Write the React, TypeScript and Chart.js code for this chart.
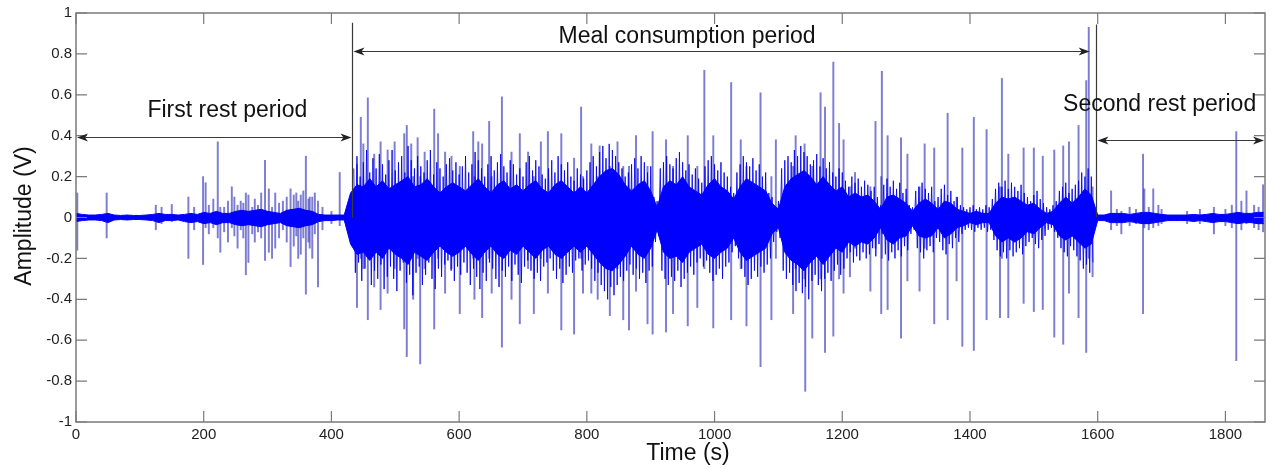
import React, { useEffect, useRef } from 'react';
import { Chart, registerables } from 'chart.js';

Chart.register(...registerables);

// ---- Axis ticks ----
const xTickValues = [0, 200, 400, 600, 800, 1000, 1200, 1400, 1600, 1800];
const yTickValues = [-1, -0.8, -0.6, -0.4, -0.2, 0, 0.2, 0.4, 0.6, 0.8, 1];

// ---- Solid core of the signal, sampled every 10 s from 0 to 1860 s ----
const coreTimes: number[] = Array.from({ length: 187 }, (_, i) => i * 10);

const coreHigh = [
  // first rest period 0..420
  0.02, 0.015, 0.012, 0.012, 0.015, 0.02, 0.012, 0.01, 0.012, 0.01,
  0.01, 0.012, 0.015, 0.02, 0.015, 0.015, 0.012, 0.015, 0.02, 0.015,
  0.025, 0.02, 0.03, 0.02, 0.02, 0.03, 0.035, 0.03, 0.035, 0.04,
  0.03, 0.025, 0.02, 0.035, 0.04, 0.045, 0.035, 0.03, 0.015, 0.012,
  0.012, 0.012, 0.012,
  // meal consumption 430..1590
  0.12, 0.16, 0.15, 0.19, 0.15, 0.18, 0.14, 0.16, 0.18, 0.2,
  0.15, 0.16, 0.19, 0.15, 0.12, 0.15, 0.17, 0.15, 0.13, 0.16,
  0.19, 0.15, 0.12, 0.16, 0.18, 0.14, 0.16, 0.13, 0.16, 0.18,
  0.14, 0.12, 0.16, 0.18, 0.15, 0.12, 0.15, 0.12, 0.16, 0.2,
  0.23, 0.24, 0.21, 0.16, 0.13, 0.16, 0.18, 0.13, 0.05, 0.15,
  0.18, 0.16, 0.2, 0.15, 0.13, 0.11, 0.16, 0.19, 0.15, 0.13,
  0.09, 0.15, 0.19, 0.17, 0.15, 0.13, 0.07, 0.04, 0.15, 0.19,
  0.21, 0.23, 0.2, 0.16, 0.2, 0.16, 0.13, 0.15, 0.1, 0.12,
  0.1, 0.11, 0.08, 0.04, 0.1, 0.11, 0.09, 0.07, 0.03, 0.07,
  0.09, 0.07, 0.04, 0.08, 0.07, 0.04, 0.03, 0.02, 0.03, 0.02,
  0.02, 0.07, 0.1, 0.09, 0.1, 0.08, 0.06, 0.07, 0.04, 0.02,
  0.03, 0.07, 0.1, 0.07, 0.1, 0.14, 0.11,
  // second rest period 1600..1860
  0.012, 0.012, 0.02, 0.02, 0.02, 0.015, 0.02, 0.025, 0.025, 0.02,
  0.015, 0.012, 0.012, 0.012, 0.012, 0.015, 0.012, 0.015, 0.02, 0.015,
  0.015, 0.02, 0.025, 0.02, 0.02, 0.025, 0.025,
];

const coreLow = [
  // first rest period 0..420
  -0.02, -0.015, -0.012, -0.012, -0.015, -0.025, -0.012, -0.01, -0.012, -0.01,
  -0.01, -0.012, -0.015, -0.025, -0.015, -0.015, -0.012, -0.02, -0.025, -0.02,
  -0.03, -0.025, -0.035, -0.025, -0.025, -0.035, -0.04, -0.035, -0.04, -0.045,
  -0.035, -0.03, -0.025, -0.04, -0.045, -0.05, -0.04, -0.035, -0.02, -0.015,
  -0.015, -0.012, -0.012,
  // meal consumption 430..1590
  -0.13, -0.18, -0.17, -0.21, -0.17, -0.2, -0.15, -0.18, -0.2, -0.23,
  -0.17, -0.19, -0.21, -0.17, -0.14, -0.17, -0.19, -0.17, -0.14, -0.18,
  -0.21, -0.17, -0.14, -0.18, -0.2, -0.16, -0.18, -0.14, -0.17, -0.2,
  -0.16, -0.14, -0.18, -0.2, -0.17, -0.14, -0.17, -0.14, -0.18, -0.22,
  -0.25, -0.26, -0.23, -0.19, -0.14, -0.18, -0.2, -0.15, -0.06, -0.17,
  -0.2, -0.19, -0.22, -0.17, -0.15, -0.13, -0.18, -0.2, -0.17, -0.15,
  -0.1, -0.17, -0.21, -0.19, -0.17, -0.15, -0.08, -0.05, -0.17, -0.21,
  -0.23, -0.26, -0.22, -0.19, -0.23, -0.19, -0.15, -0.17, -0.12, -0.14,
  -0.12, -0.13, -0.1, -0.05, -0.11, -0.13, -0.1, -0.09, -0.04, -0.09,
  -0.1, -0.09, -0.05, -0.1, -0.08, -0.05, -0.04, -0.025, -0.035, -0.025,
  -0.025, -0.09, -0.12, -0.1, -0.12, -0.1, -0.07, -0.08, -0.05, -0.025,
  -0.035, -0.09, -0.11, -0.09, -0.12, -0.15, -0.13,
  // second rest period 1600..1860
  -0.015, -0.015, -0.025, -0.025, -0.025, -0.02, -0.025, -0.03, -0.03, -0.025,
  -0.02, -0.015, -0.015, -0.015, -0.015, -0.02, -0.015, -0.02, -0.025, -0.02,
  -0.02, -0.025, -0.03, -0.025, -0.025, -0.03, -0.03,
];

// ---- Dense oscillation around the core during the meal, every 5 s from 435 to 1590 s ----
// (positive peak at each time, negative peak 2.5 s later)
const denseTimes: number[] = Array.from({ length: 232 }, (_, i) => 435 + i * 5);

const denseHigh = [
  0.24, 0.3, 0.2, 0.27, 0.33, 0.22, 0.29, 0.24, 0.31, 0.26,
  0.21, 0.28, 0.33, 0.23, 0.27, 0.3, 0.22, 0.35, 0.28, 0.24,
  0.3, 0.25, 0.22, 0.28, 0.33, 0.21, 0.27, 0.24, 0.2, 0.26,
  0.29, 0.23, 0.27, 0.21, 0.25, 0.3, 0.22, 0.26, 0.32, 0.28,
  0.24, 0.2, 0.26, 0.3, 0.23, 0.27, 0.31, 0.25, 0.22, 0.28,
  0.26, 0.21, 0.24, 0.2, 0.27, 0.3, 0.23, 0.28, 0.25, 0.21,
  0.19, 0.24, 0.28, 0.22, 0.3, 0.26, 0.23, 0.27, 0.2, 0.18,
  0.24, 0.21, 0.19, 0.23, 0.27, 0.3, 0.25, 0.32, 0.35, 0.29,
  0.36, 0.33, 0.3, 0.27, 0.24, 0.2, 0.22, 0.26, 0.29, 0.24,
  0.3, 0.27, 0.22, 0.25, 0.1, 0.08, 0.24, 0.27, 0.3, 0.26,
  0.24, 0.29, 0.32, 0.27, 0.23, 0.26, 0.21, 0.24, 0.19, 0.17,
  0.25, 0.28, 0.3, 0.26, 0.23, 0.27, 0.22, 0.2, 0.15, 0.12,
  0.22, 0.26, 0.3, 0.27, 0.25, 0.29, 0.23, 0.26, 0.2, 0.22,
  0.12, 0.1, 0.05, 0.08, 0.24, 0.28, 0.3, 0.27, 0.33, 0.3,
  0.35, 0.32, 0.3, 0.26, 0.28, 0.31, 0.25, 0.29, 0.24, 0.27,
  0.22, 0.2, 0.24, 0.22, 0.18, 0.15, 0.2, 0.17, 0.19, 0.15,
  0.18, 0.16, 0.13, 0.15, 0.1, 0.06, 0.16, 0.19, 0.15, 0.18,
  0.14, 0.17, 0.12, 0.14, 0.06, 0.05, 0.13, 0.15, 0.17, 0.14,
  0.12, 0.15, 0.08, 0.1, 0.14, 0.16, 0.11, 0.13, 0.08, 0.1,
  0.06, 0.05, 0.04, 0.05, 0.06, 0.04, 0.05, 0.04, 0.06, 0.05,
  0.09, 0.14, 0.17, 0.15, 0.18, 0.14, 0.17, 0.15, 0.13, 0.16,
  0.12, 0.1, 0.08, 0.11, 0.13, 0.09, 0.07, 0.05, 0.04, 0.06,
  0.08, 0.13, 0.15, 0.17, 0.12, 0.14, 0.16, 0.18, 0.22, 0.2,
  0.24, 0.2,
];

const denseLow = [
  -0.27, -0.22, -0.31, -0.25, -0.2, -0.33, -0.26, -0.3, -0.23, -0.35,
  -0.29, -0.24, -0.3, -0.36, -0.26, -0.22, -0.32, -0.28, -0.38, -0.27,
  -0.24, -0.33, -0.28, -0.22, -0.3, -0.35, -0.25, -0.29, -0.23, -0.21,
  -0.26, -0.31, -0.24, -0.28, -0.22, -0.27, -0.33, -0.25, -0.29, -0.35,
  -0.27, -0.31, -0.22, -0.25, -0.3, -0.34, -0.26, -0.29, -0.24, -0.31,
  -0.23, -0.28, -0.32, -0.24, -0.21, -0.26, -0.3, -0.27, -0.31, -0.24,
  -0.22, -0.2, -0.26, -0.3, -0.25, -0.32, -0.28, -0.24, -0.27, -0.21,
  -0.2, -0.26, -0.23, -0.21, -0.25, -0.31, -0.27, -0.33, -0.36, -0.4,
  -0.34, -0.38, -0.33, -0.29, -0.31, -0.26, -0.23, -0.28, -0.25, -0.3,
  -0.27, -0.32, -0.26, -0.24, -0.12, -0.09, -0.26, -0.3, -0.33, -0.29,
  -0.31, -0.26, -0.34, -0.3, -0.27, -0.24, -0.28, -0.22, -0.2, -0.24,
  -0.21, -0.27, -0.31, -0.28, -0.25, -0.3, -0.24, -0.22, -0.17, -0.14,
  -0.2, -0.25, -0.29, -0.33, -0.3, -0.26, -0.29, -0.24, -0.27, -0.23,
  -0.2, -0.12, -0.07, -0.1, -0.26, -0.3, -0.27, -0.33, -0.36, -0.32,
  -0.37, -0.34, -0.4, -0.31, -0.28, -0.33, -0.36, -0.3, -0.27, -0.31,
  -0.26, -0.23, -0.28, -0.25, -0.2, -0.17, -0.22, -0.19, -0.21, -0.17,
  -0.2, -0.18, -0.15, -0.19, -0.13, -0.08, -0.18, -0.21, -0.17, -0.2,
  -0.16, -0.19, -0.14, -0.16, -0.08, -0.06, -0.15, -0.17, -0.2, -0.16,
  -0.14, -0.17, -0.1, -0.12, -0.16, -0.18, -0.13, -0.15, -0.1, -0.12,
  -0.08, -0.06, -0.05, -0.06, -0.07, -0.05, -0.06, -0.05, -0.07, -0.06,
  -0.11, -0.16, -0.19, -0.17, -0.2, -0.16, -0.19, -0.17, -0.15, -0.18,
  -0.14, -0.12, -0.1, -0.13, -0.15, -0.11, -0.09, -0.06, -0.05, -0.07,
  -0.1, -0.15, -0.17, -0.19, -0.14, -0.16, -0.19, -0.21, -0.25, -0.23,
  -0.27, -0.22,
];

// ---- Individual spikes (time, lowest, highest) ----
const spikeTimes = [
  // first rest period
  2, 48, 125, 134, 150, 176, 185, 199, 203, 208, 215, 222, 226, 232, 238, 244, 248, 253, 258, 262, 266, 270, 276,
  280, 285, 290, 296, 302, 307, 312, 318, 324, 330, 336, 341, 345, 348, 352, 356, 360, 364, 366, 370, 374, 379, 386, 400, 413,
  // meal consumption
  440, 446, 450, 457, 467, 477, 488, 499, 514, 518, 525, 528, 535, 539, 546, 561, 567, 578, 588, 601,
  622, 624, 630, 636, 647, 651, 667, 682, 695, 708, 717, 728, 739, 760, 780, 791, 794, 807,
  817, 820, 836, 848, 857, 866, 877, 895, 903, 924, 935, 958, 973, 984, 998,
  1026, 1041, 1050, 1072, 1089, 1096, 1123, 1127, 1141, 1142, 1153, 1166, 1173, 1186, 1195, 1202,
  1212, 1220, 1244, 1252, 1261, 1262, 1271, 1292, 1302, 1321, 1329, 1344, 1365, 1379, 1388, 1406,
  1426, 1447, 1450, 1460, 1484, 1500, 1514, 1532, 1546, 1555, 1570, 1582, 1586, 1592,
  // second rest period
  1621, 1630, 1637, 1650, 1660, 1671, 1673, 1680, 1687, 1695, 1700, 1740, 1760, 1782, 1800, 1810, 1817, 1825, 1833, 1845, 1852, 1859,
];
const spikeLow = [
  // first rest period
  -0.16, -0.1, -0.06, -0.03, -0.02, -0.2, -0.06, -0.23, -0.05, -0.08, -0.05, -0.1, -0.17, -0.07, -0.12, -0.05, -0.09, -0.15, -0.06, -0.1, -0.28, -0.22, -0.08,
  -0.12, -0.07, -0.1, -0.21, -0.17, -0.2, -0.15, -0.1, -0.06, -0.12, -0.24, -0.14, -0.09, -0.2, -0.18, -0.1, -0.375, -0.12, -0.15, -0.2, -0.08, -0.34, -0.06, -0.03, -0.04,
  // meal consumption
  -0.44, -0.2, -0.25, -0.5, -0.34, -0.45, -0.37, -0.25, -0.545, -0.68, -0.2, -0.4, -0.2, -0.716, -0.25, -0.545, -0.2, -0.37, -0.25, -0.47,
  -0.2, -0.4, -0.2, -0.49, -0.2, -0.37, -0.634, -0.4, -0.52, -0.25, -0.47, -0.2, -0.37, -0.55, -0.57, -0.2, -0.37, -0.37,
  -0.4, -0.2, -0.48, -0.25, -0.5, -0.55, -0.36, -0.52, -0.57, -0.56, -0.47, -0.53, -0.44, -0.25, -0.54,
  -0.5, -0.25, -0.53, -0.73, -0.5, -0.2, -0.47, -0.25, -0.3, -0.85, -0.59, -0.3, -0.66, -0.58, -0.3, -0.37,
  -0.29, -0.15, -0.36, -0.15, -0.47, -0.2, -0.45, -0.59, -0.31, -0.36, -0.15, -0.52, -0.5, -0.31, -0.63, -0.65,
  -0.5, -0.49, -0.2, -0.49, -0.42, -0.46, -0.45, -0.585, -0.62, -0.37, -0.49, -0.66, -0.2, -0.29,
  // second rest period
  -0.06, -0.04, -0.08, -0.04, -0.03, -0.47, -0.05, -0.06, -0.05, -0.04, -0.03, -0.03, -0.03, -0.08, -0.04, -0.05, -0.7, -0.06, -0.03, -0.05, -0.06, -0.07,
];
const spikeHigh = [
  // first rest period
  0.12, 0.12, 0.06, 0.05, 0.064, 0.1, 0.05, 0.2, 0.17, 0.06, 0.09, 0.37, 0.05, 0.05, 0.08, 0.15, 0.1, 0.06, 0.08, 0.07, 0.12, 0.11, 0.05,
  0.09, 0.06, 0.12, 0.28, 0.14, 0.05, 0.12, 0.07, 0.08, 0.1, 0.14, 0.11, 0.12, 0.08, 0.11, 0.13, 0.3, 0.09, 0.1, 0.1, 0.12, 0.08, 0.05, 0.03, 0.22,
  // meal consumption
  0.26, 0.49, 0.36, 0.585, 0.31, 0.37, 0.33, 0.37, 0.41, 0.45, 0.36, 0.2, 0.39, 0.2, 0.32, 0.53, 0.41, 0.32, 0.3, 0.25,
  0.42, 0.2, 0.37, 0.36, 0.47, 0.2, 0.59, 0.32, 0.41, 0.32, 0.2, 0.37, 0.42, 0.41, 0.29, 0.54, 0.2, 0.36,
  0.2, 0.35, 0.25, 0.37, 0.25, 0.25, 0.4, 0.25, 0.42, 0.38, 0.25, 0.4, 0.25, 0.72, 0.4,
  0.66, 0.38, 0.25, 0.61, 0.2, 0.38, 0.25, 0.4, 0.36, 0.2, 0.25, 0.61, 0.54, 0.76, 0.46, 0.38,
  0.15, 0.22, 0.15, 0.47, 0.2, 0.715, 0.4, 0.39, 0.31, 0.15, 0.36, 0.34, 0.51, 0.1, 0.34, 0.49,
  0.43, 0.15, 0.68, 0.31, 0.34, 0.34, 0.3, 0.33, 0.35, 0.37, 0.45, 0.67, 0.93, 0.15,
  // second rest period
  0.13, 0.04, 0.03, 0.05, 0.04, 0.31, 0.14, 0.05, 0.14, 0.06, 0.04, 0.03, 0.04, 0.05, 0.04, 0.06, 0.42, 0.08, 0.13, 0.06, 0.05, 0.16,
];

// ---- Period annotations ----
const periodLabels = ['First rest period', 'Meal consumption period', 'Second rest period'];
const periodStart = [0, 433, 1598];
const periodEnd = [433, 1589, 1862];
const arrowLevel = [0.395, 0.812, 0.38];
const labelTime = [237, 957, 1697];
const labelLevel = [0.489, 0.851, 0.523];
const markerTimes = [433, 1598];
const markerTops = [0.952, 0.944];

const FONT = "'Liberation Sans', Arial, Helvetica, sans-serif";

function drawArrowHead(ctx: CanvasRenderingContext2D, tipX: number, yy: number, dir: number) {
  ctx.beginPath();
  ctx.moveTo(tipX, yy);
  ctx.lineTo(tipX + dir * 11, yy - 4);
  ctx.lineTo(tipX + dir * 8, yy);
  ctx.lineTo(tipX + dir * 11, yy + 4);
  ctx.closePath();
  ctx.fill();
}

const decorPlugin = {
  id: 'decor',
  afterDraw(chart: any) {
    const { ctx, chartArea: a, scales } = chart;
    const x = scales.x;
    const y = scales.y;
    ctx.save();
    // box
    ctx.strokeStyle = '#7a7a7a';
    ctx.lineWidth = 1.5;
    ctx.strokeRect(a.left, a.top, a.right - a.left, a.bottom - a.top);
    // inward ticks
    ctx.lineWidth = 1.2;
    ctx.beginPath();
    xTickValues.forEach((v) => {
      const px = x.getPixelForValue(v);
      ctx.moveTo(px, a.bottom);
      ctx.lineTo(px, a.bottom - 11);
      ctx.moveTo(px, a.top);
      ctx.lineTo(px, a.top + 11);
    });
    yTickValues.forEach((v) => {
      const py = y.getPixelForValue(v);
      ctx.moveTo(a.left, py);
      ctx.lineTo(a.left + 11, py);
      ctx.moveTo(a.right, py);
      ctx.lineTo(a.right - 11, py);
    });
    ctx.stroke();

    // period boundary markers
    ctx.strokeStyle = '#3a3a3a';
    ctx.lineWidth = 1.2;
    ctx.beginPath();
    markerTimes.forEach((t, i) => {
      const px = Math.round(x.getPixelForValue(t)) + 0.5;
      ctx.moveTo(px, y.getPixelForValue(0));
      ctx.lineTo(px, y.getPixelForValue(markerTops[i]));
    });
    ctx.stroke();

    // arrows
    ctx.strokeStyle = '#3a3a3a';
    ctx.fillStyle = '#222';
    ctx.lineWidth = 1.2;
    periodLabels.forEach((_, i) => {
      const x1 = x.getPixelForValue(periodStart[i]) + 1;
      const x2 = x.getPixelForValue(periodEnd[i]) - 1;
      const yy = Math.round(y.getPixelForValue(arrowLevel[i])) + 0.5;
      ctx.beginPath();
      ctx.moveTo(x1 + 6, yy);
      ctx.lineTo(x2 - 6, yy);
      ctx.stroke();
      drawArrowHead(ctx, x1, yy, 1);
      drawArrowHead(ctx, x2, yy, -1);
    });

    // labels
    ctx.fillStyle = '#111';
    ctx.font = `23px ${FONT}`;
    ctx.textAlign = 'center';
    ctx.textBaseline = 'alphabetic';
    periodLabels.forEach((lab, i) => {
      ctx.fillText(lab, x.getPixelForValue(labelTime[i]), y.getPixelForValue(labelLevel[i]));
    });

    // axis titles
    ctx.fillText('Time (s)', 688, 460);
    ctx.save();
    ctx.translate(31, 216);
    ctx.rotate(-Math.PI / 2);
    ctx.fillText('Amplitude (V)', 0, 0);
    ctx.restore();

    ctx.restore();
  },
};

export default function App() {
  const ref = useRef<HTMLCanvasElement>(null);

  useEffect(() => {
    const canvas = ref.current;
    if (!canvas) return;
    const dense = denseTimes.flatMap((t, i) => [
      { x: t, y: denseHigh[i] },
      { x: t + 2.5, y: denseLow[i] },
    ]);
    const chart = new Chart(canvas, {
      type: 'line',
      data: {
        datasets: [
          {
            type: 'line',
            label: 'core high',
            data: coreTimes.map((t, i) => ({ x: t, y: coreHigh[i] })),
            borderColor: 'rgb(0,0,255)',
            backgroundColor: 'rgb(0,0,255)',
            borderWidth: 1,
            pointRadius: 0,
            fill: '+1',
            tension: 0,
            order: 1,
          },
          {
            type: 'line',
            label: 'core low',
            data: coreTimes.map((t, i) => ({ x: t, y: coreLow[i] })),
            borderColor: 'rgb(0,0,255)',
            borderWidth: 1,
            pointRadius: 0,
            fill: false,
            tension: 0,
            order: 1,
          },
          {
            type: 'line',
            label: 'dense',
            data: dense,
            borderColor: 'rgba(0,0,240,0.85)',
            borderWidth: 1,
            pointRadius: 0,
            fill: false,
            tension: 0,
            order: 2,
          },
          {
            type: 'bar',
            label: 'spikes',
            data: spikeTimes.map((t, i) => ({ x: t, y: [spikeLow[i], spikeHigh[i]] })) as any,
            backgroundColor: 'rgba(45,45,185,0.62)',
            borderWidth: 0,
            barThickness: 1.3,
            grouped: false,
            order: 3,
          } as any,
        ],
      },
      options: {
        animation: false,
        responsive: false,
        maintainAspectRatio: false,
        layout: { padding: { top: 13, right: 12, left: 0, bottom: 0 } },
        plugins: {
          legend: { display: false },
          tooltip: { enabled: false },
        },
        scales: {
          x: {
            type: 'linear',
            min: 0,
            max: 1862,
            offset: false,
            grid: { display: false, offset: false, drawTicks: false, tickLength: 0 },
            border: { display: false },
            ticks: {
              stepSize: 200,
              includeBounds: false,
              maxRotation: 0,
              autoSkip: false,
              padding: 4,
              color: '#222',
              font: { family: FONT, size: 15 },
              callback: (v: any) => String(v),
            },
            afterFit: (s: any) => {
              s.height = 47;
            },
          },
          y: {
            type: 'linear',
            min: -1,
            max: 1,
            grid: { display: false, drawTicks: false, tickLength: 0 },
            border: { display: false },
            ticks: {
              stepSize: 0.2,
              padding: 4,
              color: '#222',
              font: { family: FONT, size: 15 },
              callback: (v: any) => String(Math.round(Number(v) * 10) / 10),
            },
            afterFit: (s: any) => {
              s.width = 76;
            },
          },
        },
      },
      plugins: [decorPlugin],
    });
    return () => chart.destroy();
  }, []);

  return (
    <div style={{ position: 'fixed', left: 0, top: 0, width: 1277, height: 469, background: '#fff' }}>
      <canvas ref={ref} width={1277} height={469} style={{ display: 'block' }} />
    </div>
  );
}
